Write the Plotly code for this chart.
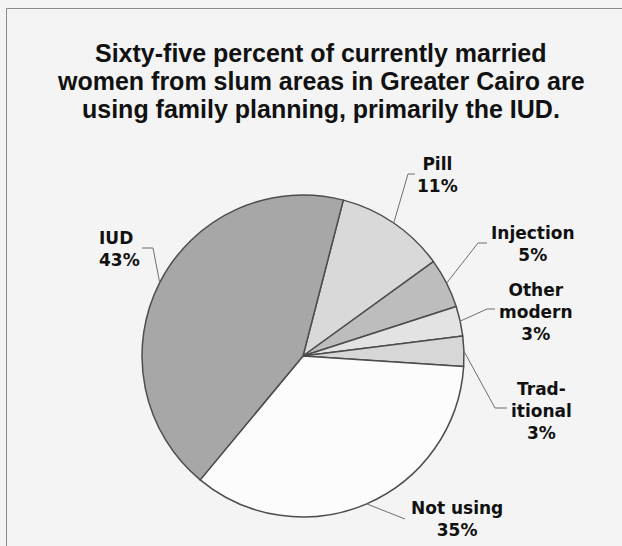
import math
import plotly.graph_objects as go

# Contraceptive method mix, currently married women in Greater Cairo slum areas
methods = ["Pill", "Injection", "Other modern", "Traditional", "Not using", "IUD"]
shares = [11, 5, 3, 3, 35, 43]
label_names = ["Pill", "Injection", "Other<br>modern", "Trad-<br>itional", "Not using", "IUD"]
slice_colors = ["#d9d9d9", "#bdbdbd", "#e3e3e3", "#d7d7d7", "#fcfcfc", "#a7a7a7"]

title_lines = [
    "Sixty-five percent of currently married",
    "women from slum areas in Greater Cairo are",
    "using family planning, primarily the IUD.",
]

W, H = 622, 546
CX, CY, R = 303, 356, 161      # pie centre and radius in pixels
START = 14.5                   # first slice starts this many degrees clockwise from 12 o'clock

BG = "#f4f4f4"
EDGE = "#4d4d4d"
LEADER = "#6e6e6e"
LABEL_FONT = dict(family="DejaVu Sans, Arial, sans-serif", size=17, color="#111111")
TITLE_FONT = dict(family="Liberation Sans, Arial, sans-serif", size=25, color="#111111")


def px(x):
    return x / W


def py(y):
    return 1 - y / H


fig = go.Figure(
    go.Pie(
        labels=methods,
        values=shares,
        sort=False,
        direction="clockwise",
        rotation=START,
        marker=dict(colors=slice_colors, line=dict(color=EDGE, width=1.5)),
        textinfo="none",
        hoverinfo="label+percent",
        showlegend=False,
        domain=dict(x=[px(CX - R), px(CX + R)], y=[py(CY + R), py(CY - R)]),
    )
)

# label block placement: (anchor x, centre y, xanchor, elbow point, line end at text)
label_layout = {
    "Pill": (437, 175, "center", (408, 174), (415, 174)),
    "Injection": (533, 244, "center", (478, 243), (487, 243)),
    "Other modern": (536, 312, "center", (487, 309), (495, 309)),
    "Traditional": (541, 411, "center", (495, 408), (507, 408)),
    "Not using": (457, 519, "center", (405, 519), (405, 519)),
    "IUD": (97, 249, "left", (153, 248), (142, 248)),
}

total = sum(shares)
shapes = []
annotations = []
cum = 0.0
for name, text, value in zip(methods, label_names, shares):
    mid = math.radians(START + 360.0 * (cum + value / 2.0) / total)
    cum += value
    ex = CX + R * math.sin(mid)
    ey = CY - R * math.cos(mid)
    lx, ly, anchor, (bx, by), (tx, ty) = label_layout[name]
    shapes.append(dict(
        type="path", xref="paper", yref="paper",
        path=f"M {px(ex)} {py(ey)} L {px(bx)} {py(by)} L {px(tx)} {py(ty)}",
        line=dict(color=LEADER, width=1),
    ))
    pct = round(100.0 * value / total)
    annotations.append(dict(
        x=px(lx), y=py(ly), xref="paper", yref="paper",
        xanchor=anchor, yanchor="middle", align=anchor,
        text=f"<b>{text}<br>{pct}%</b>", showarrow=False, font=LABEL_FONT,
    ))

# title, one annotation per line for tight line spacing
for line, ty in zip(title_lines, [53, 81, 109]):
    annotations.append(dict(
        x=px(321), y=py(ty), xref="paper", yref="paper",
        xanchor="center", yanchor="middle",
        text=f"<b>{line}</b>", showarrow=False, font=TITLE_FONT,
    ))

# chart frame
shapes.append(dict(
    type="path", xref="paper", yref="paper",
    path=f"M {px(6.5)} {py(560)} L {px(6.5)} {py(8.5)} L {px(622)} {py(8.5)}",
    line=dict(color="#8a8a8a", width=1),
))

fig.update_layout(
    width=W, height=H,
    margin=dict(l=0, r=0, t=0, b=0),
    paper_bgcolor=BG, plot_bgcolor=BG,
    shapes=shapes, annotations=annotations,
)

fig.write_html("out.html")
